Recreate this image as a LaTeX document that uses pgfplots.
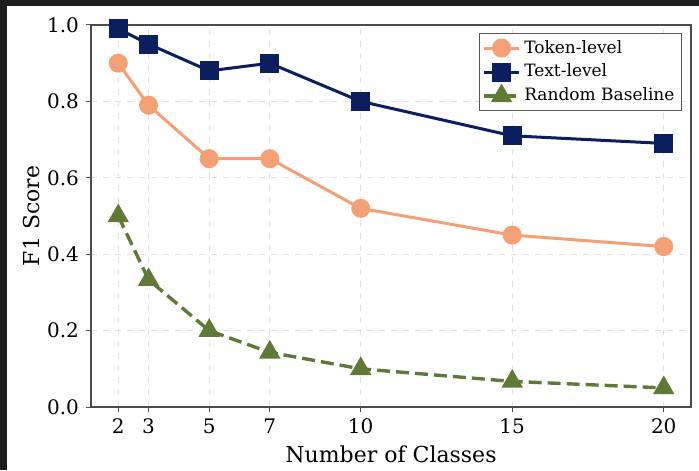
\documentclass[border=0pt]{standalone}
\usepackage{pgfplots}
\pgfplotsset{compat=1.18}
\usepackage{fontspec}
\setmainfont{DejaVu Serif}
\definecolor{tok}{HTML}{F2A074}
\definecolor{txt}{HTML}{0B1F5E}
\definecolor{rnd}{HTML}{5F7A36}
\definecolor{frame}{HTML}{1E1E1E}
\begin{document}
\begin{tikzpicture}
\fill[frame] (0,0) rectangle (349.5pt,235pt);
\fill[white] (3.5pt,0) rectangle (349.5pt,232pt);
\begin{axis}[
  at={(45.5pt,31.5pt)}, anchor=south west,
  scale only axis, width=300pt, height=191pt,
  xmin=1.1, xmax=20.9, ymin=0, ymax=1.0,
  xtick={2,3,5,7,10,15,20},
  ytick={0,0.2,0.4,0.6,0.8,1.0},
  yticklabel style={/pgf/number format/.cd, fixed, fixed zerofill, precision=1},
  /pgf/number format/assume math mode=true,
  tick label style={font=\fontsize{10}{12}\selectfont},
  label style={font=\fontsize{11}{13}\selectfont},
  xlabel={Number of Classes}, ylabel={F1 Score},
  xlabel style={yshift=1pt},
  ylabel style={yshift=-3pt},
  tick align=outside, tick pos=left,
  major tick length=2.5pt,
  every tick/.style={black!70, line width=0.5pt},
  axis line style={black!70, line width=0.6pt},
  grid=major,
  major grid style={dashed, black!12, line width=0.4pt},
  legend style={at={(0.985,0.98)}, anchor=north east, font=\fontsize{8.5}{10}\selectfont, draw=black!65, line width=0.5pt, row sep=0pt, inner sep=1.5pt},
  legend cell align=left,
]
\addplot[tok, line width=1.5pt, mark=*, mark size=4pt, mark options={solid}] coordinates {
 (2,0.90) (3,0.79) (5,0.65) (7,0.65) (10,0.52) (15,0.45) (20,0.42)};
\addlegendentry{Token-level}
\addplot[txt, line width=1.5pt, mark=square*, mark size=4pt, mark options={solid}] coordinates {
 (2,0.99) (3,0.95) (5,0.88) (7,0.90) (10,0.80) (15,0.71) (20,0.69)};
\addlegendentry{Text-level}
\addplot[rnd, line width=1.7pt, dash pattern=on 6.5pt off 3pt, mark=triangle*, mark size=4.5pt, mark options={solid}] coordinates {
 (2,0.50) (3,0.333) (5,0.20) (7,0.143) (10,0.10) (15,0.067) (20,0.05)};
\addlegendentry{Random Baseline}
\end{axis}
\end{tikzpicture}
\end{document}
